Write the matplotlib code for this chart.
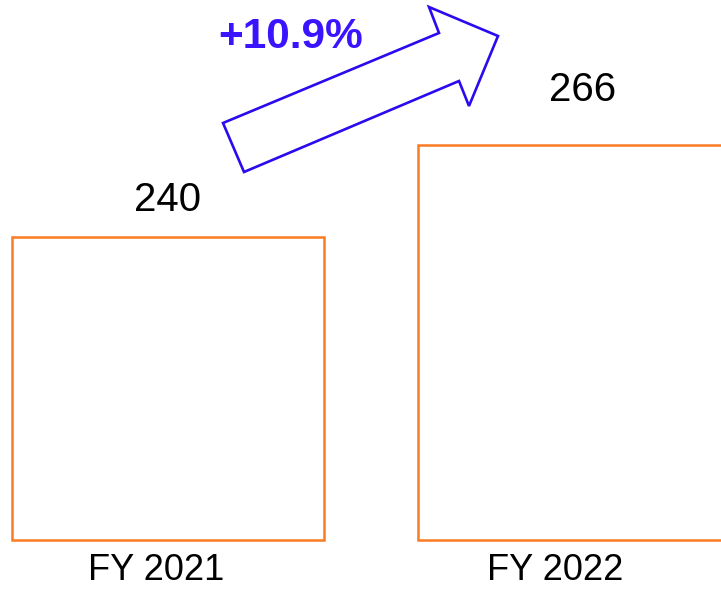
import matplotlib
matplotlib.use("Agg")
import matplotlib.pyplot as plt
from matplotlib.patches import Polygon

categories = ["FY 2021", "FY 2022"]
values = [240, 266]
value_labels = ["240", "266"]
growth_label = "+10.9%"

W, H = 721, 589
fig = plt.figure(figsize=(W / 100, H / 100), dpi=100)
ax = fig.add_axes([0, 0, 1, 1])
ax.axis("off")

# scale mapping (bars are truncated at a baseline, as in the reference)
baseline = 154.4
px_per_unit_x = 406.0
px_per_unit_y = 3.54
ax.set_xlim(-168 / px_per_unit_x, -168 / px_per_unit_x + W / px_per_unit_x)
ax.set_ylim(baseline - 49 / px_per_unit_y, baseline + 540 / px_per_unit_y)

bar_w = 312 / px_per_unit_x
orange = "#F97B22"
xs = list(range(len(categories)))
ax.bar(xs, [v - baseline for v in values], bottom=baseline, width=bar_w,
       facecolor="white", edgecolor=orange, linewidth=1.8, clip_on=True)

font = ["Liberation Sans", "DejaVu Sans"]
label_offsets = [(0, 37), (9, 55)]  # pixel offsets above bar tops
for x, v, lab, (dx, dy) in zip(xs, values, value_labels, label_offsets):
    ax.annotate(lab, (x, v), xytext=(dx * 0.72, dy * 0.72), textcoords="offset points",
                ha="center", va="center", fontsize=29, family=font, color="black")

cat_offsets = [-12, -19]
for x, c, dx in zip(xs, categories, cat_offsets):
    ax.annotate(c, (x, baseline), xytext=(dx * 0.72, -31 * 0.72), textcoords="offset points",
                ha="center", va="center", fontsize=26, family=font, color="black")

# growth arrow (figure pixel coordinates)
pts = [(223, 123), (439, 33), (429, 7), (498, 36), (469, 106), (459, 81), (244, 172)]
poly = Polygon([(x / W, 1 - y / H) for x, y in pts], closed=True, transform=fig.transFigure,
               facecolor="white", edgecolor="#2A0AEE", linewidth=1.9)
fig.patches.append(poly)
fig.text(291 / W, 1 - 37 / H, growth_label, ha="center", va="center", fontsize=30.5,
         fontweight="bold", family=font, color="#3A14FF")

fig.savefig("out.png", dpi=100, facecolor="white")
